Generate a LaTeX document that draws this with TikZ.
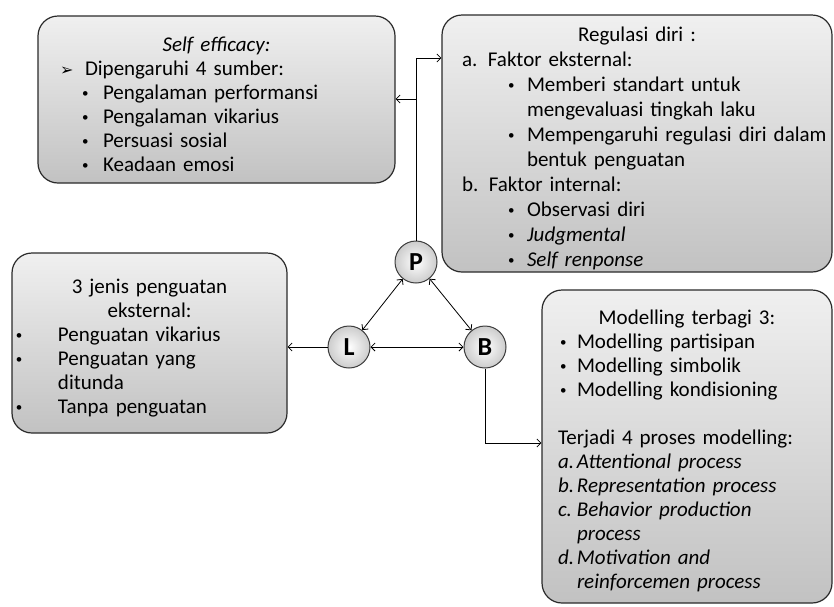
\documentclass[tikz,border=0pt]{standalone}
\usepackage{fontspec}
\setmainfont{Carlito}
\newfontfamily\symfont{DejaVu Sans}
\usepackage{tikz}
\usetikzlibrary{arrows.meta, positioning, calc}
\definecolor{boxline}{HTML}{2A2A2A}
\definecolor{circline}{HTML}{3C3C3C}
\newcommand{\boxtitle}[1]{\par\centerline{#1}}
\newcommand{\tline}[2]{\par\noindent\hspace*{#1pt}#2}
\newcommand{\dotmark}{\raisebox{2pt}{\fontsize{13}{13}\selectfont\textbullet}}
\newcommand{\bitem}[3][20]{\par\noindent\hspace*{#2pt}\makebox[#1pt][l]{\dotmark}#3}

\begin{document}
\begin{tikzpicture}[x=1pt, y=-1pt,
  infobox/.style={rectangle, rounded corners=20pt, draw=boxline, line width=1.2pt,
              top color=gray!12, bottom color=gray!48, inner sep=0pt,
              font=\fontsize{21}{24}\selectfont},
  circ/.style={circle, draw=circline, line width=1pt, inner color=white,
              outer color=gray!40, minimum size=42pt, inner sep=0pt,
              font=\fontsize{26}{28}\selectfont\bfseries},
  arrow/.style={-{Straight Barb[length=4pt]}, line width=0.8pt},
  dblarrow/.style={{Straight Barb[length=4pt]}-{Straight Barb[length=4pt]}, line width=0.8pt},
]
  \useasboundingbox (0,0) rectangle (834,606);
  \node[infobox, text width=357pt, minimum height=167pt] (se) at (216.5,99.5)
    {\boxtitle{\textit{Self efficacy:}}
     \tline{22}{\makebox[25pt][l]{\symfont\fontsize{16}{16}\selectfont ➢}Dipengaruhi 4 sumber:}
     \bitem[21]{44}{Pengalaman performansi}
     \bitem[21]{44}{Pengalaman vikarius}
     \bitem[21]{44}{Persuasi sosial}
     \bitem[21]{44}{Keadaan emosi}};
  \node[infobox, text width=390pt, minimum height=257pt,
        font=\fontsize{21}{25}\selectfont] (reg) at (637,143.5)
    {\boxtitle{Regulasi diri :}
     \tline{20}{a. Faktor eksternal:}
     \bitem[19]{66}{Memberi standart untuk}
     \tline{85}{mengevaluasi tingkah laku}
     \bitem[19]{66}{Mempengaruhi regulasi diri dalam}
     \tline{85}{bentuk penguatan}
     \tline{20}{b. Faktor internal:}
     \bitem[19]{66}{Observasi diri}
     \bitem[19]{66}{\textit{Judgmental}}
     \bitem[19]{66}{\textit{Self renponse}}};
  \node[infobox, text width=275pt, minimum height=180pt] (jenis) at (149.5,343)
    {\boxtitle{3 jenis penguatan}
     \boxtitle{eksternal:}
     \bitem[42]{4}{Penguatan vikarius}
     \bitem[42]{4}{Penguatan yang}
     \tline{46}{ditunda}
     \bitem[42]{4}{Tanpa penguatan}};
  \node[infobox, text width=290pt, minimum height=313pt] (model) at (687,446.5)
    {\boxtitle{Modelling terbagi 3:}
     \bitem[17]{18}{Modelling partisipan}
     \bitem[17]{18}{Modelling simbolik}
     \bitem[17]{18}{Modelling kondisioning}
     \tline{0}{\strut}
     \tline{16}{Terjadi 4 proses modelling:}
     \tline{16}{\itshape\makebox[19pt][l]{a.}Attentional process}
     \tline{16}{\itshape\makebox[19pt][l]{b.}Representation process}
     \tline{16}{\itshape\makebox[19pt][l]{c.}Behavior production}
     \tline{35}{\itshape process}
     \tline{16}{\itshape\makebox[19pt][l]{d.}Motivation and}
     \tline{35}{\itshape reinforcemen process}};

  \node[circ] (P) at (416,262) {P};
  \node[circ] (L) at (349,347) {L};
  \node[circ] (B) at (485,347) {B};

  \coordinate (toprow) at (0,58);
  \coordinate (serow) at (0,99);
  \coordinate (brow) at (0,443);

  \draw[arrow] (P.north) |- (toprow -| reg.west);
  \draw[arrow] (P.north |- serow) -- (serow -| se.east);
  \draw[arrow] (L.west) -- (L.west -| jenis.east);
  \draw[arrow] (B.south) |- (brow -| model.west);
  \draw[dblarrow] (P) -- (L);
  \draw[dblarrow] (P) -- (B);
  \draw[dblarrow] (L) -- (B);
\end{tikzpicture}
\end{document}
